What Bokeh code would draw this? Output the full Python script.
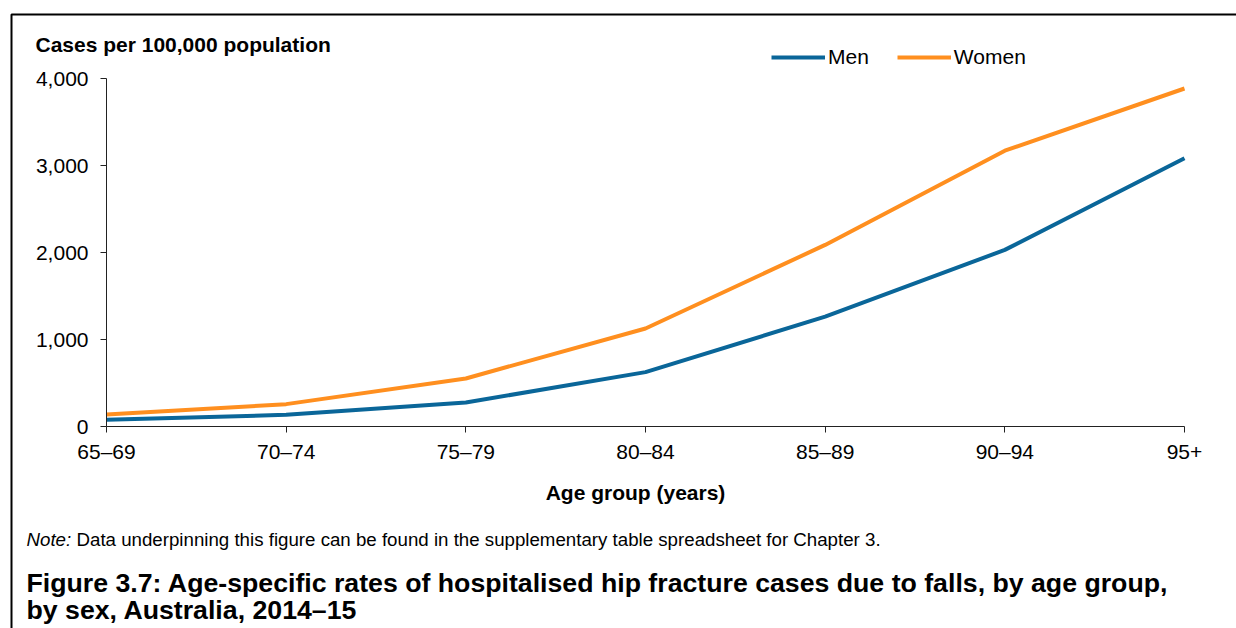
from bokeh.plotting import figure
from bokeh.models import (Range1d, FixedTicker, NumeralTickFormatter, Label,
                          Legend, LegendItem, BoxAnnotation, LinearAxis)
from bokeh.embed import file_html
from bokeh.resources import INLINE

# ---- data ----
age_groups = ["65–69", "70–74", "75–79", "80–84", "85–89", "90–94", "95+"]
men = [77, 134, 276, 625, 1262, 2030, 3084]
women = [138, 257, 552, 1127, 2087, 3170, 3885]
y_ticks = [0, 1000, 2000, 3000, 4000]

y_title = "Cases per 100,000 population"
x_title = "Age group (years)"
note_lead = "Note:"
note_text = "Data underpinning this figure can be found in the supplementary table spreadsheet for Chapter 3."
caption1 = "Figure 3.7: Age-specific rates of hospitalised hip fracture cases due to falls, by age group,"
caption2 = "by sex, Australia, 2014–15"

FONT = "Liberation Sans"
W, H = 1236, 628
# pixel positions of the plotting area (layout)
PX0, PX1 = 106, 1184   # first / last category
PY0, PY1 = 426, 78     # y = 0 / y = 4000

x = list(range(len(age_groups)))
nx = len(age_groups) - 1
ymax = y_ticks[-1]

# ranges spanning the whole canvas so that the axes sit at the right pixels
xs = nx / (PX1 - PX0)
ys = ymax / (PY0 - PY1)
x_range = Range1d(-PX0 * xs, nx + (W - PX1) * xs)
y_range = Range1d(-(H - PY0) * ys, ymax + PY1 * ys)

p = figure(width=W, height=H, output_backend="svg", toolbar_location=None,
           x_range=x_range, y_range=y_range,
           x_axis_location=None, y_axis_location=None,
           min_border=0)
p.outline_line_color = None
p.xgrid.grid_line_color = None
p.ygrid.grid_line_color = None
p.background_fill_color = "white"
p.border_fill_color = "white"

r_men = p.line(x, men, line_color="#0A6699", line_width=4)
r_women = p.line(x, women, line_color="#FF8F1F", line_width=4)

xaxis = LinearAxis(fixed_location=0, bounds=(0, nx),
                   ticker=FixedTicker(ticks=x),
                   major_label_overrides={i: lab for i, lab in enumerate(age_groups)},
                   major_label_standoff=7)
yaxis = LinearAxis(fixed_location=0, bounds=(0, ymax),
                   ticker=FixedTicker(ticks=y_ticks),
                   formatter=NumeralTickFormatter(format="0,0"),
                   major_label_standoff=12)
for ax in (xaxis, yaxis):
    ax.axis_line_color = "#222222"
    ax.axis_line_width = 1
    ax.major_tick_line_color = "#222222"
    ax.major_tick_in = 0
    ax.major_tick_out = 6
    ax.minor_tick_line_color = None
    ax.major_label_text_font = FONT
    ax.major_label_text_font_size = "21px"
    ax.major_label_text_color = "black"
p.add_layout(xaxis, "below")
p.add_layout(yaxis, "left")


def lab(text, fx, fy, size, style="normal", align="left"):
    # fy is the vertical centre of the text line, in pixels from the top
    p.add_layout(Label(x=fx, y=H - fy, x_units="screen", y_units="screen",
                       text=text, text_font=FONT, text_font_size=size,
                       text_font_style=style, text_align=align,
                       text_baseline="middle", text_color="black"))


lab(y_title, 35, 44, "21px", "bold")
lab(x_title, 635, 492, "21px", "bold", "center")
lab(note_lead, 26, 539, "18.7px", "italic")
lab(note_text, 76, 539, "18.7px")
lab(caption1, 26, 582, "26.7px", "bold")
lab(caption2, 26, 609, "26.7px", "bold")

legend = Legend(items=[LegendItem(label="Men", renderers=[r_men]),
                       LegendItem(label="Women", renderers=[r_women])],
                orientation="horizontal", location=(771, H - 69),
                glyph_width=54, glyph_height=24, label_height=24,
                label_standoff=3, spacing=28, padding=0, margin=0,
                border_line_color=None, background_fill_alpha=0,
                label_text_font=FONT, label_text_font_size="21px",
                label_text_color="black")
p.add_layout(legend, "center")

p.add_layout(BoxAnnotation(left=11, right=W + 500, top=H - 14, bottom=-500,
                           left_units="screen", right_units="screen",
                           top_units="screen", bottom_units="screen",
                           fill_alpha=0, line_color="black", line_alpha=1,
                           line_width=2))

open("out.html", "w").write(file_html(p, INLINE))
